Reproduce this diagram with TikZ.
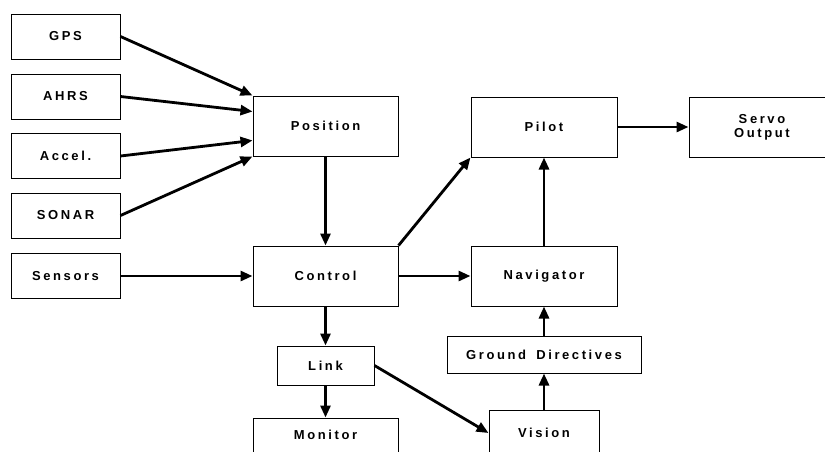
\documentclass[tikz,border=0pt]{standalone}
\usepackage{fontspec}
\newfontfamily\lblfont{Liberation Sans}[LetterSpace=20]
\usetikzlibrary{arrows.meta}
\begin{document}
\begin{tikzpicture}[x=1pt,y=-1pt,
  box/.style={draw=black,line width=1pt,inner sep=0pt,font=\lblfont\bfseries\fontsize{13}{14}\selectfont,align=center},
  conn/.style={line width=2.8pt,-{Triangle[length=12pt,width=10pt]}}]
\clip (0,0) rectangle (825,451);
% left inputs
\node[box,minimum width=109pt,minimum height=45pt] (gps) at (65.5,36.5) {GPS};
\node[box,minimum width=109pt,minimum height=45pt] (ahrs) at (65.5,96.5) {AHRS};
\node[box,minimum width=109pt,minimum height=45pt] (accel) at (65.5,156) {Accel.};
\node[box,minimum width=109pt,minimum height=45pt] (sonar) at (65.5,215.5) {SONAR};
\node[box,minimum width=109pt,minimum height=45pt] (sensors) at (65.5,276) {Sensors};
% middle column
\node[box,minimum width=145pt,minimum height=60pt] (pos) at (325.5,126) {Position};
\node[box,minimum width=145pt,minimum height=60pt] (ctrl) at (325.5,276) {Control};
\node[box,minimum width=97pt,minimum height=39pt] (link) at (325.5,365.5) {Link};
\node[box,minimum width=145pt,minimum height=34pt] (mon) at (325.5,435) {Monitor};
% right column
\node[box,minimum width=146pt,minimum height=60pt] (pilot) at (544,127) {Pilot};
\node[box,minimum width=146pt,minimum height=60pt] (servo) at (762,127) {Servo\\Output};
\node[box,minimum width=146pt,minimum height=60pt] (nav) at (544,276) {Navigator};
\node[box,minimum width=194pt,minimum height=37pt] (gd) at (544,354.5) {Ground\hspace{4pt} Directives};
\node[box,minimum width=110pt,minimum height=46pt] (vis) at (544,433) {Vision};
% connectors
\draw[conn] (gps.east) -- (pos.north west);
\draw[conn] (ahrs.east) -- ([yshift=-16pt]pos.north west);
\draw[conn] (accel.east) -- ([yshift=-45pt]pos.north west);
\draw[conn] (sonar.east) -- (pos.south west);
\draw[conn] (pos.south) -- (ctrl.north);
\draw[conn] (sensors.east) -- (ctrl.west);
\draw[conn] (ctrl.north east) -- (pilot.south west);
\draw[conn] (ctrl.east) -- (nav.west);
\draw[conn] (ctrl.south) -- (link.north);
\draw[conn] (link.south) -- (mon.north);
\draw[conn] (link.east) -- (vis.west);
\draw[conn] (vis.north) -- (gd.south);
\draw[conn] (gd.north) -- (nav.south);
\draw[conn] (nav.north) -- (pilot.south);
\draw[conn] (pilot.east) -- (servo.west);
\end{tikzpicture}
\end{document}
